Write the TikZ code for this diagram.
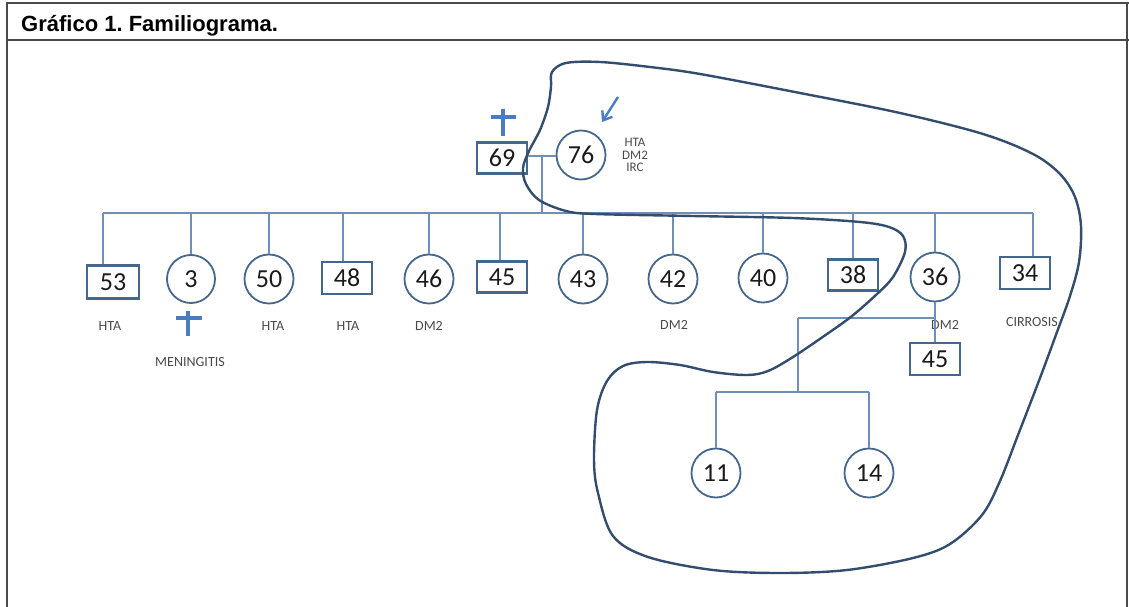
\documentclass[tikz,border=0pt]{standalone}
\usepackage{fontspec}
\setmainfont{Carlito}
\newfontfamily\titlefont{Liberation Sans}
\usetikzlibrary{arrows.meta}
\definecolor{framecol}{HTML}{4A4A4A}
\definecolor{linecol}{HTML}{6F90B4}
\definecolor{shapecol}{HTML}{46678C}
\definecolor{loopcol}{HTML}{334D6E}
\definecolor{crosscol}{HTML}{4A7CC4}
\definecolor{numcol}{HTML}{1A1A1A}
\definecolor{labcol}{HTML}{4A4A4A}
\frenchspacing
\begin{document}
\begin{tikzpicture}[x=1pt,y=-1pt,
  frameline/.style={draw=framecol,line width=1.4pt},
  conn/.style={draw=linecol,line width=1.4pt},
  box/.style={draw=shapecol,line width=2.1pt,rectangle,minimum width=50pt,minimum height=32pt,inner sep=0pt,text=numcol,font=\fontsize{26}{26}\selectfont},
  circ/.style={draw=shapecol,line width=1.8pt,circle,minimum size=49pt,inner sep=0pt,text=numcol,font=\fontsize{26}{26}\selectfont},
  lab/.style={text=labcol,inner sep=0pt,font=\fontsize{14}{14}\selectfont},
  crossline/.style={draw=crosscol,line width=3.2pt},
  loopline/.style={draw=loopcol,line width=2.4pt}]
\useasboundingbox (0,0) rectangle (1129,607);
% frame
\draw[frameline] (7,607) -- (7,3) -- (1129,3);
\draw[frameline] (1127,3) -- (1127,607);
\draw[frameline] (7,40) -- (1129,40);
\node[anchor=base west,inner sep=0pt,font=\titlefont\bfseries\fontsize{22}{22}\selectfont] (title) at (21,32) {Gráfico 1. Familiograma.};

% parents
\node[box,minimum height=31pt] (n69) at (502,158) {69};
\node[circ] (n76) at (581,155) {76};
\node[lab,align=center,font=\fontsize{13}{12.5}\selectfont] (l76) at (635,155) {HTA\\DM2\\IRC};

% children
\node[box,minimum width=52pt,minimum height=33pt] (c53) at (113,282) {53};
\node[circ,minimum size=48pt] (c3) at (191,279) {3};
\node[circ] (c50) at (269,279) {50};
\node[box] (c48) at (347,278) {48};
\node[circ] (c46) at (429,279) {46};
\node[box,minimum height=31pt] (c45) at (502,277) {45};
\node[circ] (c43) at (583,279) {43};
\node[circ] (c42) at (673,279) {42};
\node[circ] (c40) at (763,278) {40};
\node[box,minimum height=31pt] (c38) at (853,275) {38};
\node[circ] (c36) at (935,277) {36};
\node[box] (c34) at (1025,273) {34};
\node[box] (s45) at (935,359) {45};
\node[circ] (g11) at (716,473) {11};
\node[circ] (g14) at (869,473) {14};

% labels
\node[lab] (t53) at (110,326) {HTA};
\node[lab] (t3) at (190,362) {MENINGITIS};
\node[lab] (t50) at (273,326) {HTA};
\node[lab] (t48) at (348,326) {HTA};
\node[lab] (t46) at (429,326) {DM2};
\node[lab] (t42) at (674,325) {DM2};
\node[lab] (t36) at (945,325) {DM2};
\node[lab] (t34) at (1032,322) {CIRROSIS};

% connectors
\coordinate (sibL) at (103,213);
\coordinate (sibR) at (1033,213);
\coordinate (cj) at (542,156);
\draw[conn] (n69.east |- cj) -- (n76.west |- cj);
\draw[conn] (cj) -- (cj |- sibL);
\draw[conn] (sibL) -- (sibR);
\foreach \n/\x in {c53/103,c3/191,c50/269,c48/343,c46/429,c45/500,c43/583,c42/673,c40/763,c38/853,c36/935,c34/1033}{
  \coordinate (d\n) at (\x,213);
  \draw[conn] (d\n) -- (d\n |- \n.north);
}
\draw[conn] (c36.south) -- (s45.north);
\coordinate (mA) at (798,318);
\coordinate (mB) at (935,318);
\coordinate (kj) at (798,392);
\coordinate (kL) at (716,392);
\coordinate (kR) at (869,392);
\draw[conn] (mA) -- (mB);
\draw[conn] (mA) -- (kj);
\draw[conn] (kL) -- (kR);
\draw[conn] (kL) -- (g11.north);
\draw[conn] (kR) -- (g14.north);

% crosses
\draw[crossline] (503,109) -- (503,136);
\draw[crossline] (491,117) -- (516,117);
\draw[crossline] (188,311) -- (188,336);
\draw[crossline] (176,318) -- (202,318);

% arrow pointing to index patient
\coordinate (ar1) at (618,97);
\coordinate (ar2) at (602,122);
\draw[draw=crosscol,line width=2.4pt,-{Straight Barb[length=8pt,width=12pt]}] (ar1) -- (ar2);

% enclosing loop
\draw[loopline] plot[smooth cycle,tension=0.55] coordinates {
(552,72) (566,63) (600,62) (650,67) (700,74) (800,93) (900,113) (983,134) (1033,154) (1060,174) (1075,197) (1081,226) (1079,262) (1070,296) (1057,332) (1040,378) (1018,435) (1000,481) (982,515) (950,544) (913,558) (847,570) (780,573) (713,570) (648,557) (613,536) (598,493) (594,460) (597,410) (607,381) (623,366) (647,362) (680,365) (713,372) (747,375) (768,371) (793,357) (827,334) (852,316) (877,294) (893,277) (905,252) (903,236) (889,227) (860,222) (793,218) (693,216) (595,214) (566,211) (539,200) (526,184) (523,168) (529,151) (540,130) (548,107) (551,87)};
\end{tikzpicture}
\end{document}
